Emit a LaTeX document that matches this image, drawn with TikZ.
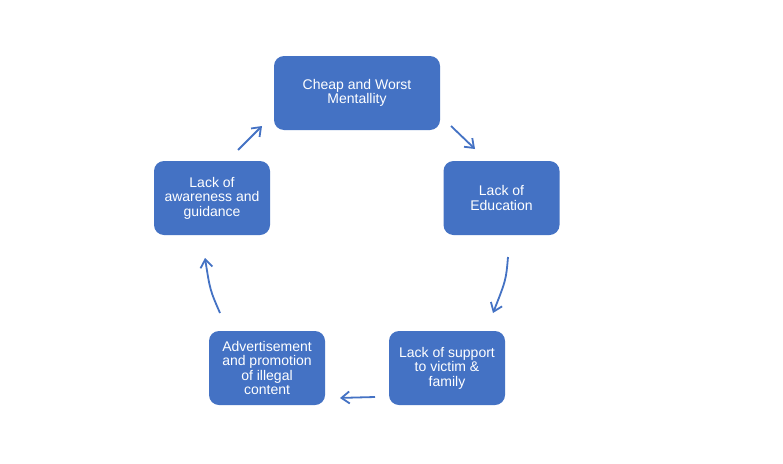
\documentclass[tikz,border=0pt]{standalone}
\usepackage{fontspec}
\setmainfont{Liberation Sans}
\usetikzlibrary{arrows.meta}
\definecolor{boxblue}{HTML}{4472C4}
\begin{document}
\begin{tikzpicture}[x=1pt,y=-1pt,
  stepbox/.style={draw=none,fill=boxblue,rounded corners=10pt,text=white,align=center,
    font=\fontsize{14}{14.5}\selectfont,inner sep=0pt},
  conn/.style={draw=boxblue,line width=1.8pt,-{Straight Barb[length=8pt,width=12pt]}}]
\useasboundingbox (0,0) rectangle (783,463);
\fill[white] (0,0) rectangle (783,463);
\node[stepbox,minimum width=166pt,minimum height=74pt] (top) at (357,93) {Cheap and Worst\\Mentallity};
\node[stepbox,minimum width=116pt,minimum height=74pt] (right) at (501.5,198) {Lack of\\Education};
\node[stepbox,minimum width=116pt,minimum height=74pt] (br) at (447,368) {Lack of support\\to victim \&\\family};
\node[stepbox,minimum width=116pt,minimum height=74pt] (bl) at (267,368) {Advertisement\\and promotion\\of illegal\\content};
\node[stepbox,minimum width=116pt,minimum height=74pt] (left) at (212,198) {Lack of\\awareness and\\guidance};
\coordinate (a1s) at (451,126); \coordinate (a1e) at (475,149);
\coordinate (a2s) at (508,257); \coordinate (a2e) at (493,313);
\coordinate (a3s) at (375,397); \coordinate (a3e) at (340,398);
\coordinate (a4s) at (220,313); \coordinate (a4e) at (205,258);
\coordinate (a5s) at (238,150); \coordinate (a5e) at (262,126);
\draw[conn] (a1s) -- (a1e);
\draw[conn] (a2s) .. controls (506,280) .. (a2e);
\draw[conn] (a3s) .. controls (358,397) .. (a3e);
\draw[conn] (a4s) .. controls (210,290) .. (a4e);
\draw[conn] (a5s) -- (a5e);
\end{tikzpicture}
\end{document}
